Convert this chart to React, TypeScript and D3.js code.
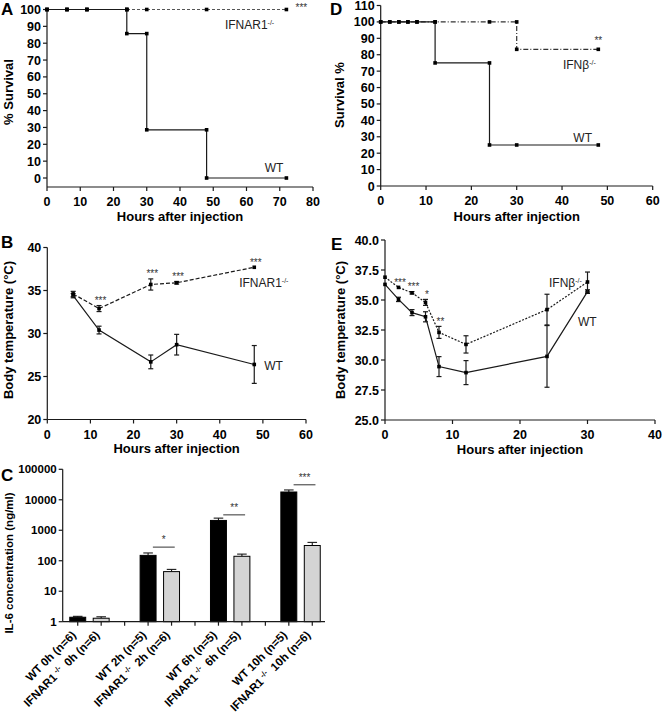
import * as d3 from 'd3';

const FONT = '"Liberation Sans", Arial, Helvetica, sans-serif';
const INK = '#1a1a1a';

// A: survival, IFNAR1-/- vs WT
const survATime = [0, 6, 12, 24, 30, 48, 72];
const survAWT = [100, 100, 100, 85.7, 28.6, 0, 0];
const survAKO = [100, 100, 100, 100, 100, 100, 100];

// D: survival, IFNb-/- vs WT
const survDTime = [0, 2, 4, 6, 8, 12, 24, 30, 48];
const survDWT = [100, 100, 100, 100, 100, 75, 25, 25, 25];
const survDKO = [100, 100, 100, 100, 100, 100, 100, 83.3, 83.3];

// B: body temperature, IFNAR1-/- vs WT
const tempBTime = [6, 12, 24, 30, 48];
const tempBKO = [34.6, 32.9, 35.7, 35.9, 37.7];
const tempBKOErr = [0.3, 0.35, 0.65, 0.15, 0];
const tempBWT = [34.4, 30.4, 26.7, 28.7, 26.4];
const tempBWTErr = [0.25, 0.45, 0.8, 1.2, 2.2];
const tempBSig = ['', '***', '***', '***', '***'];

// E: body temperature, IFNb-/- vs WT
const tempETime = [0, 2, 4, 6, 8, 12, 24, 30];
const tempEKO = [36.9, 36.05, 35.6, 34.8, 32.3, 31.3, 34.2, 36.5];
const tempEKOErr = [0, 0, 0.1, 0.25, 0.5, 0.72, 1.28, 0.83];
const tempEWT = [36.3, 35.05, 33.95, 33.6, 29.45, 28.95, 30.3, 35.7];
const tempEWTErr = [0, 0.18, 0.25, 0.42, 0.83, 1.0, 2.57, 0.15];
const tempESig = ['', '***', '***', '*', '**', '', '', ''];

// C: IL-6 concentration
const il6Groups = ['0h', '2h', '6h', '10h'];
const il6WT = [1.4, 150, 2100, 18000];
const il6WTTop = [1.5, 180, 2500, 21000];
const il6WTn = [6, 5, 5, 5];
const il6KO = [1.3, 44, 140, 316];
const il6KOTop = [1.45, 52, 165, 400];
const il6KOn = [6, 6, 5, 6];
const il6Sig = ['', '*', '**', '***'];
const il6SigLevel = [0, 280, 3200, 31000];
const il6Ticks = [1, 10, 100, 1000, 10000, 100000];

type Lin = d3.ScaleLinear<number, number>;

function Axes({ x, y, xTicks, yTicks, axisY, yTop, fmt, fs = 12.5 }: {
  x: Lin; y: Lin; xTicks: number[]; yTicks: number[]; axisY: number; yTop: number;
  fmt?: (v: number) => string; fs?: number;
}) {
  const [x0, x1] = x.range();
  const f = fmt || ((v: number) => String(v));
  return (
    <g stroke={INK} strokeWidth={1.2} fontFamily={FONT} fontWeight="bold" fontSize={fs}>
      <line x1={x0} x2={x0} y1={y(yTop)} y2={axisY} />
      <line x1={x0} x2={x1} y1={axisY} y2={axisY} />
      {yTicks.map((t) => (
        <g key={'y' + t}>
          <line x1={x0 - 4} x2={x0} y1={y(t)} y2={y(t)} />
          <text x={x0 - 6} y={y(t)} dy="0.36em" textAnchor="end" stroke="none" fill="#000">{f(t)}</text>
        </g>
      ))}
      {xTicks.map((t) => (
        <g key={'x' + t}>
          <line x1={x(t)} x2={x(t)} y1={axisY} y2={axisY + 4} />
          <text x={x(t)} y={axisY + 19} textAnchor="middle" stroke="none" fill="#000">{t}</text>
        </g>
      ))}
    </g>
  );
}

function Title({ x, y, text, rotate = false, fs = 13 }: { x: number; y: number; text: string; rotate?: boolean; fs?: number }) {
  return (
    <text
      transform={rotate ? `translate(${x},${y}) rotate(-90)` : `translate(${x},${y})`}
      textAnchor="middle" fontFamily={FONT} fontWeight="bold" fontSize={fs} fill="#000"
    >{text}</text>
  );
}

function Letter({ x, y, t }: { x: number; y: number; t: string }) {
  return <text x={x} y={y} fontFamily={FONT} fontWeight="bold" fontSize={17} fill="#000">{t}</text>;
}

function Label({ x, y, main, sup, fs = 12 }: { x: number; y: number; main: string; sup?: string; fs?: number }) {
  return (
    <text x={x} y={y} fontFamily={FONT} fontSize={fs} fill="#222">
      <tspan>{main}</tspan>
      {sup && <tspan dy={-4.5} fontSize={7}>{sup}</tspan>}
    </text>
  );
}

function Survival({ x, y, time, surv, dash, color = INK }: {
  x: Lin; y: Lin; time: number[]; surv: number[]; dash?: string; color?: string;
}) {
  const pts = time.map((t, i) => [t, surv[i]] as [number, number]);
  const line = d3.line<[number, number]>().x((d) => x(d[0])).y((d) => y(d[1])).curve(d3.curveStepAfter);
  const marks: [number, number][] = [];
  pts.forEach((p, i) => {
    if (i > 0 && surv[i - 1] !== p[1]) marks.push([p[0], surv[i - 1]]);
    marks.push(p);
  });
  return (
    <g>
      <path d={line(pts) || ''} fill="none" stroke={color} strokeWidth={1.2} strokeDasharray={dash} />
      {marks.map((m, i) => (
        <rect key={i} x={x(m[0]) - 1.8} y={y(m[1]) - 1.8} width={3.6} height={3.6} fill="#000" />
      ))}
    </g>
  );
}

function Temps({ x, y, time, mean, err, dash, sig }: {
  x: Lin; y: Lin; time: number[]; mean: number[]; err: number[]; dash?: string; sig?: string[];
}) {
  const pts = time.map((t, i) => [t, mean[i]] as [number, number]);
  const line = d3.line<[number, number]>().x((d) => x(d[0])).y((d) => y(d[1]));
  return (
    <g>
      <path d={line(pts) || ''} fill="none" stroke={INK} strokeWidth={1.2} strokeDasharray={dash} />
      {pts.map((p, i) => {
        const cx = x(p[0]);
        const top = y(p[1] + err[i]);
        const bot = y(p[1] - err[i]);
        return (
          <g key={i}>
            {err[i] > 0 && (
              <g stroke={INK} strokeWidth={1.2}>
                <line x1={cx} x2={cx} y1={top} y2={bot} />
                <line x1={cx - 2.5} x2={cx + 2.5} y1={top} y2={top} />
                <line x1={cx - 2.5} x2={cx + 2.5} y1={bot} y2={bot} />
              </g>
            )}
            <rect x={cx - 1.8} y={y(p[1]) - 1.8} width={3.6} height={3.6} fill="#000" />
            {sig && sig[i] && (
              <text x={cx + 1.5} y={top - 1.5} textAnchor="middle" fontFamily={FONT} fontSize={10} fill="#333">{sig[i]}</text>
            )}
          </g>
        );
      })}
    </g>
  );
}

function PanelA() {
  const x = d3.scaleLinear().domain([0, 80]).range([47, 313]);
  const y = d3.scaleLinear().domain([0, 100]).range([178, 9.5]);
  return (
    <g>
      <Axes x={x} y={y} xTicks={d3.range(0, 81, 10)} yTicks={d3.range(0, 101, 10)} axisY={187} yTop={100} />
      <Survival x={x} y={y} time={survATime} surv={survAKO} dash="3,2" color="#555" />
      <Survival x={x} y={y} time={survATime.slice(0, 4)} surv={survAKO.slice(0, 4)} />
      <Survival x={x} y={y} time={survATime} surv={survAWT} />
      <text x={x(76.5)} y={11} textAnchor="middle" fontFamily={FONT} fontSize={10} fill="#333">***</text>
      <Label x={x(53.5)} y={29} main="IFNAR1" sup="-/-" />
      <Label x={x(65.5)} y={172} main="WT" />
      <Title x={180} y={221} text="Hours after injection" />
      <Title x={13} y={92} text="% Survival" rotate />
      <Letter x={1} y={15} t="A" />
    </g>
  );
}

function PanelD() {
  const x = d3.scaleLinear().domain([0, 60]).range([380.7, 652.7]);
  const y = d3.scaleLinear().domain([0, 110]).range([186, 5.5]);
  return (
    <g>
      <Axes x={x} y={y} xTicks={d3.range(0, 61, 10)} yTicks={d3.range(0, 111, 10)} axisY={186} yTop={110} />
      <Survival x={x} y={y} time={survDTime} surv={survDKO} dash="5,2,1,2" color="#333" />
      <Survival x={x} y={y} time={survDTime} surv={survDWT} />
      <text x={x(48)} y={44} textAnchor="middle" fontFamily={FONT} fontSize={10} fill="#333">**</text>
      <Label x={x(40.2)} y={69} main="IFNβ" sup="-/-" />
      <Label x={x(42.5)} y={142} main="WT" />
      <Title x={516.7} y={221} text="Hours after injection" />
      <Title x={344} y={95} text="Survival %" rotate />
      <Letter x={330} y={15} t="D" />
    </g>
  );
}

function PanelB() {
  const x = d3.scaleLinear().domain([0, 60]).range([47.3, 306]);
  const y = d3.scaleLinear().domain([20, 40]).range([419.5, 247.5]);
  return (
    <g>
      <Axes x={x} y={y} xTicks={d3.range(0, 61, 10)} yTicks={d3.range(20, 41, 5)} axisY={419.5} yTop={40} />
      <Temps x={x} y={y} time={tempBTime} mean={tempBWT} err={tempBWTErr} />
      <Temps x={x} y={y} time={tempBTime} mean={tempBKO} err={tempBKOErr} dash="4,2" sig={tempBSig} />
      <Label x={x(44.5)} y={287} main="IFNAR1" sup="-/-" />
      <Label x={x(50.3)} y={370} main="WT" />
      <Title x={176.6} y={453} text="Hours after injection" />
      <Title x={13} y={330} text="Body temperature (°C)" rotate />
      <Letter x={1} y={248} t="B" />
    </g>
  );
}

function PanelE() {
  const x = d3.scaleLinear().domain([0, 40]).range([385, 655]);
  const y = d3.scaleLinear().domain([25, 40]).range([420, 240]);
  return (
    <g>
      <Axes x={x} y={y} xTicks={d3.range(0, 41, 10)} yTicks={d3.range(25, 40.1, 2.5)} axisY={420} yTop={40}
        fmt={d3.format('.1f')} />
      <Temps x={x} y={y} time={tempETime} mean={tempEWT} err={tempEWTErr} />
      <Temps x={x} y={y} time={tempETime} mean={tempEKO} err={tempEKOErr} dash="2,1.5" sig={tempESig} />
      <Label x={x(24.3)} y={287} main="IFNβ" sup="-/-" />
      <Label x={x(28.6)} y={326} main="WT" />
      <Title x={520} y={454} text="Hours after injection" />
      <Title x={345} y={330} text="Body temperature (°C)" rotate />
      <Letter x={331} y={250} t="E" />
    </g>
  );
}

function PanelC() {
  const slots = d3.range(il6Groups.length * 3 - 1);
  const x = d3.scaleBand<number>().domain(slots).range([66, 324]).paddingInner(0.32).paddingOuter(0.16);
  const y = d3.scaleLog().domain([1, 100000]).range([621.7, 469.3]);
  const bw = x.bandwidth();
  const axisY = y(1);
  const x0 = 62.7;
  const bars = il6Groups.flatMap((g, i) => [
    { slot: i * 3, v: il6WT[i], top: il6WTTop[i], fill: '#000', wt: true, n: il6WTn[i], g },
    { slot: i * 3 + 1, v: il6KO[i], top: il6KOTop[i], fill: '#d4d4d4', wt: false, n: il6KOn[i], g },
  ]);
  return (
    <g>
      {bars.map((b) => {
        const bx = x(b.slot)!;
        const cx = bx + bw / 2;
        return (
          <g key={b.slot}>
            <g stroke={INK} strokeWidth={1.1}>
              <line x1={cx} x2={cx} y1={y(b.v)} y2={y(b.top)} />
              <line x1={cx - bw * 0.3} x2={cx + bw * 0.3} y1={y(b.top)} y2={y(b.top)} />
            </g>
            <rect x={bx} y={y(b.v)} width={bw} height={axisY - y(b.v)} fill={b.fill} stroke="#000" strokeWidth={1} />
          </g>
        );
      })}
      {il6Groups.map((g, i) =>
        il6Sig[i] ? (
          <g key={'s' + g}>
            <line x1={x(i * 3)! + bw * 0.8} x2={x(i * 3 + 1)! + bw * 0.7} y1={y(il6SigLevel[i])} y2={y(il6SigLevel[i])}
              stroke="#333" strokeWidth={1} />
            <text x={(x(i * 3)! + x(i * 3 + 1)! + bw * 1.5) / 2} y={y(il6SigLevel[i]) - 4} textAnchor="middle"
              fontFamily={FONT} fontSize={10} fill="#333">{il6Sig[i]}</text>
          </g>
        ) : null
      )}
      <g stroke={INK} strokeWidth={1.2} fontFamily={FONT} fontWeight="bold" fontSize={11.5}>
        <line x1={x0} x2={x0} y1={y(100000)} y2={axisY} />
        <line x1={x0} x2={325} y1={axisY} y2={axisY} />
        {il6Ticks.map((t) => (
          <g key={t}>
            <line x1={x0 - 4} x2={x0} y1={y(t)} y2={y(t)} />
            <text x={x0 - 6} y={y(t)} dy="0.36em" textAnchor="end" stroke="none" fill="#000">{t}</text>
          </g>
        ))}
        {slots.map((s) => (
          <line key={s} x1={x(s)! + bw / 2} x2={x(s)! + bw / 2} y1={axisY} y2={axisY + 4} />
        ))}
      </g>
      {bars.map((b) => {
        const cx = x(b.slot)! + bw / 2;
        return (
          <text key={'l' + b.slot} transform={`translate(${cx - 1},${axisY + 14}) rotate(-45)`} textAnchor="end"
            fontFamily={FONT} fontWeight="bold" fontSize={11.5} fill="#000">
            {b.wt ? (
              <tspan>{`WT ${b.g} (n=${b.n})`}</tspan>
            ) : (
              <>
                <tspan>IFNAR1</tspan>
                <tspan dy={-4} fontSize={7.5}>{'\u00a0-/-'}</tspan>
                <tspan dy={4}>{`\u00a0\u00a0${b.g} (n=${b.n})`}</tspan>
              </>
            )}
          </text>
        );
      })}
      <Title x={13} y={563} text="IL-6 concentration (ng/ml)" rotate fs={11.5} />
      <Letter x={1} y={481} t="C" />
    </g>
  );
}

export default function App() {
  return (
    <div style={{ position: 'absolute', left: 0, top: 0 }}>
      <svg width={664} height={714} style={{ display: 'block', background: '#fff' }}>
        <PanelA />
        <PanelD />
        <PanelB />
        <PanelE />
        <PanelC />
      </svg>
    </div>
  );
}
